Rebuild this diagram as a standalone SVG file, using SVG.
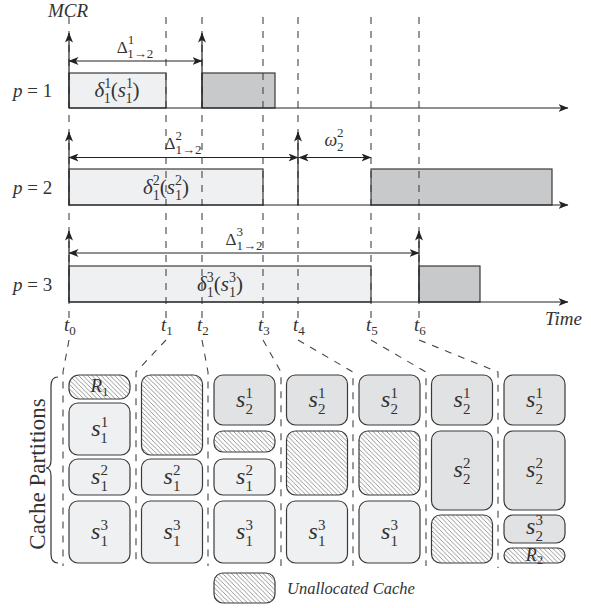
<svg xmlns="http://www.w3.org/2000/svg" width="591" height="608" viewBox="0 0 591 608">
<defs>
<style>
.ax{stroke:#333;stroke-width:1.3;fill:none}
.ar{stroke:#222;stroke-width:1.2;fill:none;marker-end:url(#ah)}
.dar{stroke:#222;stroke-width:1.2;fill:none;marker-start:url(#ah);marker-end:url(#ah)}
.dash{stroke:#444;stroke-width:1.1;stroke-dasharray:7 7;fill:none}
.lt{fill:#eff0f2;stroke:#3a3a3a;stroke-width:1.2}
.dk{fill:#c8c9cb;stroke:#3a3a3a;stroke-width:1.2}
.md{fill:#e1e2e4;stroke:#3a3a3a;stroke-width:1.2}
.ht{fill:url(#hatch);stroke:#3a3a3a;stroke-width:1.2}
text{font-family:"Liberation Serif","DejaVu Serif",serif;fill:#333}
.it{font-style:italic}
.m{font-size:21px}
.d{font-size:17px}
.s{font-size:24px}
</style>
<marker id="ah" markerUnits="userSpaceOnUse" markerWidth="10" markerHeight="8" refX="9.5" refY="4" orient="auto-start-reverse">
<path d="M0,0 L10,4 L0,8 L2.6,4 z" fill="#222"/>
</marker>
<pattern id="hatch" patternUnits="userSpaceOnUse" width="4.5" height="4.5">
<rect width="4.5" height="4.5" fill="#fff"/>
<path d="M0,0 L4.5,4.5 M-1,3.5 L1,5.5 M3.5,-1 L5.5,1" stroke="#8a8a8a" stroke-width="0.9"/>
</pattern>
</defs>

<!-- top labels -->
<text x="48" y="17" class="it" font-size="19">MCR</text>
<text x="545" y="325" class="it" font-size="19">Time</text>
<text x="13" y="97" font-size="19"><tspan class="it">p</tspan> = 1</text>
<text x="13" y="194" font-size="19"><tspan class="it">p</tspan> = 2</text>
<text x="13" y="291" font-size="19"><tspan class="it">p</tspan> = 3</text>

<!-- task boxes -->
<g id="row1">
<rect class="lt" x="69" y="73" width="97" height="35"/>
<rect class="dk" x="202" y="73" width="73" height="35"/>
<text x="117" y="97" class="m" text-anchor="middle"><tspan class="it">δ</tspan><tspan font-size="14" dy="-9">1</tspan><tspan font-size="14" dx="-7" dy="15">1</tspan><tspan dy="-6">(</tspan><tspan class="it">s</tspan><tspan font-size="14" dy="-9">1</tspan><tspan font-size="14" dx="-7" dy="15">1</tspan><tspan dy="-6">)</tspan></text>
</g>
<g id="row2">
<rect class="lt" x="69" y="169" width="194" height="36"/>
<rect class="dk" x="371" y="169" width="181" height="36"/>
<text x="166" y="194" class="m" text-anchor="middle"><tspan class="it">δ</tspan><tspan font-size="14" dy="-9">2</tspan><tspan font-size="14" dx="-7" dy="15">1</tspan><tspan dy="-6">(</tspan><tspan class="it">s</tspan><tspan font-size="14" dy="-9">2</tspan><tspan font-size="14" dx="-7" dy="15">1</tspan><tspan dy="-6">)</tspan></text>
</g>
<g id="row3">
<rect class="lt" x="69" y="266" width="302" height="36"/>
<rect class="dk" x="419" y="266" width="61" height="36"/>
<text x="220" y="291" class="m" text-anchor="middle"><tspan class="it">δ</tspan><tspan font-size="14" dy="-9">3</tspan><tspan font-size="14" dx="-7" dy="15">1</tspan><tspan dy="-6">(</tspan><tspan class="it">s</tspan><tspan font-size="14" dy="-9">3</tspan><tspan font-size="14" dx="-7" dy="15">1</tspan><tspan dy="-6">)</tspan></text>
</g>

<!-- connectors -->
<g id="connectors">
<path class="dash" d="M69,17 V318 M166,17 V318 M202,17 V318 M263,17 V318 M298,17 V318 M371,17 V318 M419,17 V318"/>
<path class="ar" d="M69,108 H568"/>
<path class="ar" d="M69,205 H568"/>
<path class="ar" d="M69,302 H568"/>
<path class="ar" d="M69,108 V33"/>
<path class="ar" d="M202,108 V33"/>
<path class="ar" d="M69,205 V132"/>
<path class="ar" d="M298,205 V132"/>
<path class="ar" d="M69,302 V231"/>
<path class="ar" d="M419,302 V231"/>
<path class="dar" d="M69,61 H202"/>
<path class="dar" d="M69,157.5 H298"/>
<path class="dar" d="M299,157.5 H371"/>
<path class="dar" d="M69,253 H419"/>
<path class="dash" d="M69,340 L63,372 V566 M166,340 L136,372 V566 M202,340 L208,372 V566 M263,340 L281,372 V566 M298,340 L353,372 V566 M371,340 L426,372 V566 M419,340 L498,372 V568"/>
</g>

<!-- interval labels -->
<text x="135" y="53" class="d" text-anchor="middle">Δ<tspan font-size="13" dy="-9">1</tspan><tspan font-size="13" dx="-6.5" dy="14">1→2</tspan></text>
<text x="183" y="149" class="d" text-anchor="middle">Δ<tspan font-size="13" dy="-9">2</tspan><tspan font-size="13" dx="-6.5" dy="14">1→2</tspan></text>
<text x="244" y="245" class="d" text-anchor="middle">Δ<tspan font-size="13" dy="-9">3</tspan><tspan font-size="13" dx="-6.5" dy="14">1→2</tspan></text>
<text x="334" y="146" font-size="18" text-anchor="middle"><tspan class="it">ω</tspan><tspan font-size="13" dy="-9">2</tspan><tspan font-size="13" dx="-6.5" dy="14">2</tspan></text>

<!-- time labels -->
<g font-size="19">
<text x="64" y="331" class="it">t<tspan font-size="13" font-style="normal" dy="4">0</tspan></text>
<text x="161" y="331" class="it">t<tspan font-size="13" font-style="normal" dy="4">1</tspan></text>
<text x="197" y="331" class="it">t<tspan font-size="13" font-style="normal" dy="4">2</tspan></text>
<text x="258" y="331" class="it">t<tspan font-size="13" font-style="normal" dy="4">3</tspan></text>
<text x="293" y="331" class="it">t<tspan font-size="13" font-style="normal" dy="4">4</tspan></text>
<text x="366" y="331" class="it">t<tspan font-size="13" font-style="normal" dy="4">5</tspan></text>
<text x="414" y="331" class="it">t<tspan font-size="13" font-style="normal" dy="4">6</tspan></text>
</g>

<!-- brace and label -->
<path d="M58,377 Q51,377 51,386 V460 Q51,468 46,468 Q51,468 51,476 V554 Q51,563 58,563" fill="none" stroke="#333" stroke-width="1.2"/>
<text transform="translate(45,474) rotate(-90)" font-size="23" text-anchor="middle">Cache Partitions</text>

<!-- partition columns -->
<g id="col0">
<rect class="ht" x="69" y="375" width="61" height="24" rx="10"/>
<text x="99.5" y="392" font-size="19" text-anchor="middle"><tspan class="it">R</tspan><tspan font-size="13" dy="4">1</tspan></text>
<rect class="lt" x="69" y="403" width="61" height="52" rx="9"/>
<text x="99.5" y="436" class="s" text-anchor="middle"><tspan class="it">s</tspan><tspan font-size="15" dy="-9">1</tspan><tspan font-size="15" dx="-7.5" dy="16">1</tspan></text>
<rect class="lt" x="69" y="459" width="61" height="36" rx="9"/>
<text x="99.5" y="484" class="s" text-anchor="middle"><tspan class="it">s</tspan><tspan font-size="15" dy="-9">2</tspan><tspan font-size="15" dx="-7.5" dy="16">1</tspan></text>
<rect class="lt" x="69" y="501" width="61" height="62" rx="9"/>
<text x="99.5" y="539" class="s" text-anchor="middle"><tspan class="it">s</tspan><tspan font-size="15" dy="-9">3</tspan><tspan font-size="15" dx="-7.5" dy="16">1</tspan></text>
</g>
<g id="col1">
<rect class="ht" x="141.5" y="375" width="61" height="80" rx="9"/>
<rect class="lt" x="141.5" y="459" width="61" height="36" rx="9"/>
<text x="172" y="484" class="s" text-anchor="middle"><tspan class="it">s</tspan><tspan font-size="15" dy="-9">2</tspan><tspan font-size="15" dx="-7.5" dy="16">1</tspan></text>
<rect class="lt" x="141.5" y="501" width="61" height="62" rx="9"/>
<text x="172" y="539" class="s" text-anchor="middle"><tspan class="it">s</tspan><tspan font-size="15" dy="-9">3</tspan><tspan font-size="15" dx="-7.5" dy="16">1</tspan></text>
</g>
<g id="col2">
<rect class="md" x="214" y="375" width="61" height="50" rx="9"/>
<text x="244.5" y="407" class="s" text-anchor="middle"><tspan class="it">s</tspan><tspan font-size="15" dy="-9">1</tspan><tspan font-size="15" dx="-7.5" dy="16">2</tspan></text>
<rect class="ht" x="214" y="431" width="61" height="21" rx="9"/>
<rect class="lt" x="214" y="459" width="61" height="36" rx="9"/>
<text x="244.5" y="484" class="s" text-anchor="middle"><tspan class="it">s</tspan><tspan font-size="15" dy="-9">2</tspan><tspan font-size="15" dx="-7.5" dy="16">1</tspan></text>
<rect class="lt" x="214" y="501" width="61" height="62" rx="9"/>
<text x="244.5" y="539" class="s" text-anchor="middle"><tspan class="it">s</tspan><tspan font-size="15" dy="-9">3</tspan><tspan font-size="15" dx="-7.5" dy="16">1</tspan></text>
</g>
<g id="col3">
<rect class="md" x="286.5" y="375" width="61" height="50" rx="9"/>
<text x="317" y="407" class="s" text-anchor="middle"><tspan class="it">s</tspan><tspan font-size="15" dy="-9">1</tspan><tspan font-size="15" dx="-7.5" dy="16">2</tspan></text>
<rect class="ht" x="286.5" y="431" width="61" height="64" rx="9"/>
<rect class="lt" x="286.5" y="501" width="61" height="62" rx="9"/>
<text x="317" y="539" class="s" text-anchor="middle"><tspan class="it">s</tspan><tspan font-size="15" dy="-9">3</tspan><tspan font-size="15" dx="-7.5" dy="16">1</tspan></text>
</g>
<g id="col4">
<rect class="md" x="359" y="375" width="61" height="50" rx="9"/>
<text x="389.5" y="407" class="s" text-anchor="middle"><tspan class="it">s</tspan><tspan font-size="15" dy="-9">1</tspan><tspan font-size="15" dx="-7.5" dy="16">2</tspan></text>
<rect class="ht" x="359" y="431" width="61" height="64" rx="9"/>
<rect class="lt" x="359" y="501" width="61" height="62" rx="9"/>
<text x="389.5" y="539" class="s" text-anchor="middle"><tspan class="it">s</tspan><tspan font-size="15" dy="-9">3</tspan><tspan font-size="15" dx="-7.5" dy="16">1</tspan></text>
</g>
<g id="col5">
<rect class="md" x="431.5" y="375" width="61" height="50" rx="9"/>
<text x="462" y="407" class="s" text-anchor="middle"><tspan class="it">s</tspan><tspan font-size="15" dy="-9">1</tspan><tspan font-size="15" dx="-7.5" dy="16">2</tspan></text>
<rect class="md" x="431.5" y="431" width="61" height="79" rx="9"/>
<text x="462" y="477" class="s" text-anchor="middle"><tspan class="it">s</tspan><tspan font-size="15" dy="-9">2</tspan><tspan font-size="15" dx="-7.5" dy="16">2</tspan></text>
<rect class="ht" x="431.5" y="515" width="61" height="48" rx="9"/>
</g>
<g id="col6">
<rect class="md" x="504" y="375" width="61" height="50" rx="9"/>
<text x="534.5" y="407" class="s" text-anchor="middle"><tspan class="it">s</tspan><tspan font-size="15" dy="-9">1</tspan><tspan font-size="15" dx="-7.5" dy="16">2</tspan></text>
<rect class="md" x="504" y="431" width="61" height="79" rx="9"/>
<text x="534.5" y="477" class="s" text-anchor="middle"><tspan class="it">s</tspan><tspan font-size="15" dy="-9">2</tspan><tspan font-size="15" dx="-7.5" dy="16">2</tspan></text>
<rect class="md" x="504" y="515" width="61" height="28" rx="9"/>
<text x="534.5" y="534" class="s" text-anchor="middle"><tspan class="it">s</tspan><tspan font-size="15" dy="-9">3</tspan><tspan font-size="15" dx="-7.5" dy="16">2</tspan></text>
<rect class="ht" x="504" y="548" width="61" height="15" rx="7.5"/>
<text x="534.5" y="561" font-size="18" text-anchor="middle"><tspan class="it">R</tspan><tspan font-size="13" dy="3">2</tspan></text>
</g>

<!-- legend -->
<g id="legend">
<rect class="ht" x="214" y="573" width="61" height="30" rx="9"/>
<text x="287" y="594" class="it" font-size="16.5">Unallocated Cache</text>
</g>
</svg>
